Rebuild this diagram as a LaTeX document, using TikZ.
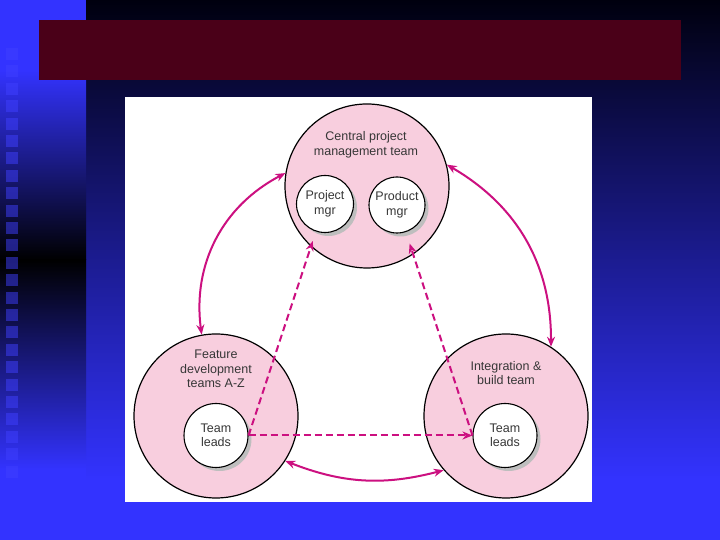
\documentclass[tikz,border=0pt]{standalone}
\usepackage{fontspec}
\setmainfont{Liberation Sans}
\usetikzlibrary{positioning, arrows.meta, shadows}
\definecolor{slideblue}{RGB}{51,51,255}
\definecolor{slidetop}{RGB}{0,0,14}
\definecolor{titlered}{RGB}{74,0,24}
\definecolor{teampink}{RGB}{248,206,222}
\definecolor{linkpink}{RGB}{204,16,128}
\definecolor{shadowgray}{RGB}{190,190,190}
\definecolor{textgray}{RGB}{55,55,55}
\tikzset{
    base/.style={align=center, text=textgray, font=\fontsize{12.5}{14.5}\selectfont},
    team/.style={base, circle, draw=black, line width=1.2pt, fill=teampink, minimum size=164pt, inner sep=0pt},
    lead/.style={base, circle, draw=black, line width=1.1pt, fill=white, inner sep=0pt, drop shadow={shadow xshift=3.5pt, shadow yshift=-3.5pt, fill=shadowgray, opacity=1}},
    link/.style={{Stealth[length=10pt, width=8pt]}-{Stealth[length=10pt, width=8pt]}, line width=2pt, linkpink},
    dashedlink/.style={-{Stealth[length=10pt, width=8pt]}, line width=2pt, linkpink, dash pattern=on 7pt off 4pt}
}

\begin{document}
\begin{tikzpicture}[x=1pt, y=1pt]
    \useasboundingbox (0,0) rectangle (720,540);

    % Slide background
    \fill[slideblue] (0,0) rectangle (720,540);
    \shade[top color=slidetop, bottom color=slideblue] (86,60) rectangle (720,540);
    \shade[top color=slideblue, bottom color=black] (0,280) rectangle (86,470);
    \shade[top color=black, bottom color=slideblue] (0,70) rectangle (86,280);
    \foreach \k in {0,...,24}
        \fill[slideblue!94!white, opacity=0.5] (6,{492-17.4*\k}) rectangle ++(12,-12);

    % Title bar
    \fill[titlered] (39,460) rectangle (681,520);

    % Figure panel
    \fill[white] (125,38) rectangle (592,443);

    % Central project management team
    \node[team] (central) at (367,354) {};
    \node[base] (centraltext) at (366,395) {Central project\\management team};
    \node[lead, minimum size=57pt] (projmgr) at (325,336) {Project\\mgr};
    \node[lead, minimum size=56pt] (prodmgr) at (397,335) {Product\\mgr};

    % Feature development teams
    \node[team] (feature) at (216,124) {};
    \node[base] (featuretext) at (216,171) {Feature\\development\\teams A-Z};
    \node[lead, minimum size=64pt] (leadsL) at (216,104.5) {Team\\leads};

    % Integration and build team
    \node[team] (integ) at (506,124) {};
    \node[base] (integtext) at (506,167) {Integration \&\\build team};
    \node[lead, minimum size=64pt] (leadsR) at (505,104.5) {Team\\leads};

    % Connections between teams
    \draw[link] (central.171) to[bend right=35] (feature.100);
    \draw[link] (central.15) to[bend left=30] (integ.57);
    \draw[link] (feature.327) to[bend right=18] (integ.221);

    % Connections between leads
    \draw[dashedlink, shorten >=10pt] (leadsL.east) -- (projmgr);
    \draw[dashedlink] (leadsL.east) -- (leadsR.west);
    \draw[dashedlink, shorten >=12pt] (leadsR.west) -- (prodmgr);
\end{tikzpicture}
\end{document}
